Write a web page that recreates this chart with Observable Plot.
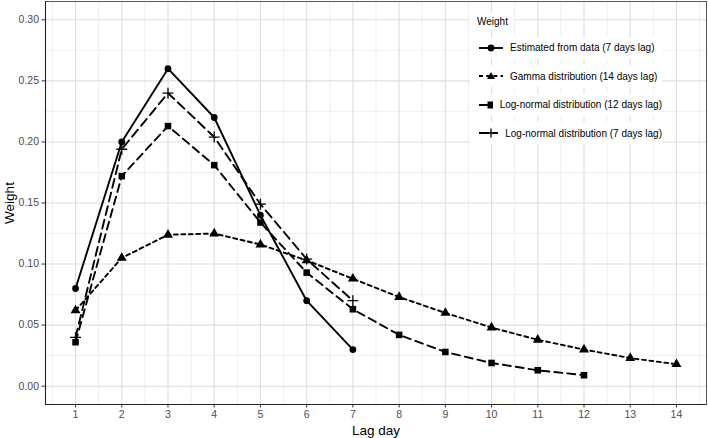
<!DOCTYPE html>
<html>
<head>
<meta charset="utf-8">
<script src="https://cdn.jsdelivr.net/npm/d3@7"></script>
<script src="https://cdn.jsdelivr.net/npm/@observablehq/plot@0.6"></script>
<style>
  html, body { margin: 0; padding: 0; background: #fff; }
  #wrap { position: relative; width: 708px; height: 438px; font-family: "Liberation Sans", Arial, sans-serif; }
  #legend { position: absolute; left: 470px; top: 12px; font-size: 10px; color: #000; white-space: nowrap; }
  #legend .title { background: #fff; padding: 4px 6px 3px 7px; display: inline-block; }
  #legend .row { display: flex; align-items: center; height: 22px; margin-top: 6.5px; background: #fff; width: 192px; }
  #legend .row svg { margin-left: 9px; margin-right: 7px; }
</style>
</head>
<body>
<div id="wrap"></div>
<script>
// Lag days
const days = [1,2,3,4,5,6,7,8,9,10,11,12,13,14];
// Series names (legend order)
const seriesNames = [
  "Estimated from data (7 days lag)",
  "Gamma distribution (14 days lag)",
  "Log-normal distribution (12 days lag)",
  "Log-normal distribution (7 days lag)"
];
// Series values (weights by lag day)
const estimated   = [0.080, 0.200, 0.260, 0.220, 0.140, 0.070, 0.030];
const gamma14     = [0.062, 0.105, 0.124, 0.125, 0.116, 0.103, 0.088, 0.073, 0.060, 0.048, 0.038, 0.030, 0.023, 0.018];
const lognormal12 = [0.036, 0.172, 0.213, 0.181, 0.134, 0.093, 0.063, 0.042, 0.028, 0.019, 0.013, 0.009];
const lognormal7  = [0.040, 0.194, 0.240, 0.204, 0.149, 0.104, 0.070];
// Tick labels
const xTicks = [1,2,3,4,5,6,7,8,9,10,11,12,13,14];
const yTicks = [0, 0.05, 0.10, 0.15, 0.20, 0.25, 0.30];
const xMinor = [0.5,1.5,2.5,3.5,4.5,5.5,6.5,7.5,8.5,9.5,10.5,11.5,12.5,13.5,14.5];
const yMinor = [0.025,0.075,0.125,0.175,0.225,0.275];

const seriesValues = [estimated, gamma14, lognormal12, lognormal7];
const styles = [
  {dash: null, symbol: "circle", r: 3.4, fill: "black", stroke: "none", sw: 0},
  {dash: "4,3.5", symbol: "triangle", r: 3.7, fill: "black", stroke: "none", sw: 0},
  {dash: "8,5", symbol: "square", r: 3.7, fill: "black", stroke: "none", sw: 0},
  {dash: "9,5", symbol: "plus", r: 3.6, fill: "none", stroke: "black", sw: 1.3}
];

const tables = seriesValues.map((vals, i) => vals.map((v, j) => ({day: days[j], w: v, s: seriesNames[i]})));

const marks = [
  Plot.ruleX(xMinor, {stroke: "#ebebeb", strokeWidth: 0.8}),
  Plot.ruleY(yMinor, {stroke: "#ebebeb", strokeWidth: 0.8}),
  Plot.ruleX(xTicks, {stroke: "#dedede", strokeWidth: 1.1}),
  Plot.ruleY(yTicks, {stroke: "#dedede", strokeWidth: 1.1}),
  Plot.frame({stroke: "#555", strokeWidth: 1})
];
tables.forEach((t, i) => {
  const st = styles[i];
  marks.push(Plot.line(t, {x: "day", y: "w", stroke: "black", strokeWidth: 1.9, strokeDasharray: st.dash}));
});
tables.forEach((t, i) => {
  const st = styles[i];
  marks.push(Plot.dot(t, {x: "day", y: "w", symbol: () => st.symbol, r: st.r, fill: st.fill, stroke: st.stroke, strokeWidth: st.sw}));
});
marks.push(Plot.axisX(xTicks, {tickSize: 3.5, tickPadding: 3, fontSize: 10.5, color: "#4d4d4d", stroke: "#333", label: null}));
marks.push(Plot.axisY(yTicks, {tickSize: 3.5, tickPadding: 3, fontSize: 10.5, color: "#4d4d4d", stroke: "#333", tickFormat: d3.format(".2f"), label: null}));
marks.push(Plot.ruleX([0.35], {stroke: "#222", strokeWidth: 1.1}));
marks.push(Plot.ruleY([-0.015], {stroke: "#222", strokeWidth: 1.1}));
marks.push(Plot.text(["Lag day"], {frameAnchor: "bottom", dy: 26, lineAnchor: "middle", fontSize: 13.5, fill: "#000"}));
marks.push(Plot.text(["Weight"], {frameAnchor: "left", dx: -36, rotate: -90, textAnchor: "middle", lineAnchor: "middle", fontSize: 13.5, fill: "#000"}));

const chart = Plot.plot({
  width: 708,
  height: 438,
  marginLeft: 45,
  marginRight: 2,
  marginTop: 1,
  marginBottom: 34,
  style: {fontFamily: "'Liberation Sans', Arial, sans-serif", background: "#fff", overflow: "visible"},
  x: {domain: [0.35, 14.65]},
  y: {domain: [-0.015, 0.315]},
  symbol: {type: "identity"},
  marks
});
const wrap = document.getElementById("wrap");
wrap.appendChild(chart);

// Legend
const legend = document.createElement("div");
legend.id = "legend";
let html = '<div class="title">Weight</div>';
seriesNames.forEach((name, i) => {
  const st = styles[i];
  let sym = "";
  if (st.symbol === "circle") sym = '<circle cx="12" cy="8" r="3.4" fill="black"/>';
  if (st.symbol === "triangle") sym = '<path d="M12,4 L16,11 L8,11 Z" fill="black"/>';
  if (st.symbol === "square") sym = '<rect x="8.5" y="4.5" width="7" height="7" fill="black"/>';
  if (st.symbol === "plus") sym = '<path d="M12,3.5 V12.5 M7.5,8 H16.5" stroke="black" stroke-width="1.3"/>';
  const dash = st.dash ? ` stroke-dasharray="${st.symbol === "triangle" ? "4,3.2" : "10,3"}"` : "";
  html += `<div class="row"><svg width="24" height="16"><line x1="0" y1="8" x2="24" y2="8" stroke="black" stroke-width="1.9"${dash}/>${sym}</svg><span>${name}</span></div>`;
});
legend.innerHTML = html;
wrap.appendChild(legend);
</script>
</body>
</html>
